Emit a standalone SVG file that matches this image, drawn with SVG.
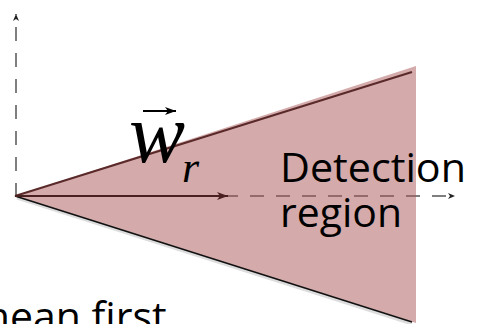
<svg xmlns="http://www.w3.org/2000/svg" width="481" height="324" viewBox="0 0 481 324">
  <style>
    .axis { stroke: #555555; stroke-width: 1.5; fill: none; stroke-dasharray: 14 12; }
    .lbl { font-family: "Open Sans", "Liberation Sans", sans-serif; font-size: 41px; fill: #000; }
    .math { font-family: "Liberation Serif", "Times New Roman", serif; font-style: italic; fill: #000; }
  </style>
  <defs>
    <marker id="gh" markerWidth="8" markerHeight="8" refX="7" refY="4" orient="auto" markerUnits="userSpaceOnUse">
      <path d="M0,1 L7,4 L0,7 L2,4 Z" fill="#222"/>
    </marker>
    <marker id="dh" markerWidth="12" markerHeight="10" refX="11" refY="5" orient="auto" markerUnits="userSpaceOnUse">
      <path d="M0,1 L11,5 L0,9 L3,5 Z" fill="#4a2020"/>
    </marker>
    <marker id="vh" markerWidth="12" markerHeight="10" refX="11" refY="5" orient="auto" markerUnits="userSpaceOnUse">
      <path d="M0,1 L11,5 L0,9 L3,5 Z" fill="#000"/>
    </marker>
  </defs>

  <g id="axes">
    <path class="axis" d="M16,197 L16,14" marker-end="url(#gh)"/>
    <path class="axis" d="M16,196 L455,196" marker-end="url(#gh)"/>
  </g>

  <g id="region">
    <polygon points="15,196 416,66 416,323" fill="rgb(170,85,85)" fill-opacity="0.5"/>
    <line x1="15" y1="196" x2="412" y2="72" stroke="#5a2a2a" stroke-width="2"/>
    <line x1="17" y1="198" x2="412" y2="324" stroke="#dddddd" stroke-width="3"/>
    <line x1="15" y1="196" x2="412" y2="322" stroke="#111" stroke-width="1.8"/>
  </g>

  <g id="connectors">
    <line x1="15" y1="196" x2="228" y2="196" stroke="#4a2020" stroke-width="2.2" marker-end="url(#dh)"/>
  </g>

  <g id="vector-label">
    <line x1="143" y1="111" x2="176" y2="111" stroke="#000" stroke-width="2.2" marker-end="url(#vh)"/>
    <text class="math" x="129" y="162" font-size="84">w</text>
    <text class="math" x="182" y="182" font-size="44">r</text>
  </g>

  <g id="detection-label">
    <text class="lbl" x="280" y="182" textLength="186" lengthAdjust="spacingAndGlyphs">Detection</text>
    <text class="lbl" x="280" y="227" textLength="122" lengthAdjust="spacingAndGlyphs">region</text>
  </g>

  <g id="bottom-label">
    <text class="lbl" x="-28" y="331" font-size="40">mean first</text>
  </g>
</svg>
